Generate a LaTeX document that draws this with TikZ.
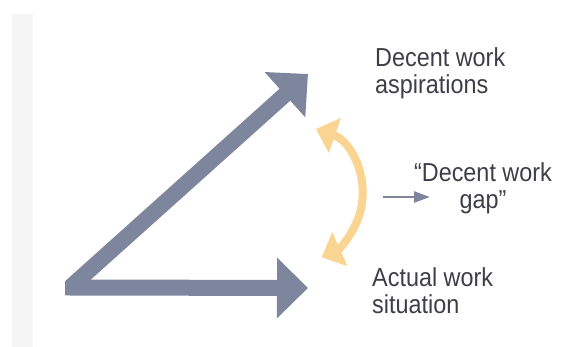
\documentclass[tikz,border=0pt]{standalone}
\usepackage{fontspec}
\setmainfont{Liberation Sans}[FakeStretch=0.9]
\usepackage{xcolor}
\usetikzlibrary{arrows.meta}
\definecolor{slate}{RGB}{125, 134, 157}
\definecolor{sand}{RGB}{250, 212, 145}
\definecolor{ink}{RGB}{62, 62, 72}
\definecolor{margin}{RGB}{245, 245, 245}

\begin{document}
\begin{tikzpicture}[x=1pt, y=-1pt,
    bigarrow/.style={slate, line width=16pt, line join=miter,
        {Triangle[length=31pt, width=59pt]}-{Triangle[length=31pt, width=59pt]}},
    gaparrow/.style={sand, line width=8pt,
        {Triangle[length=20pt, width=36pt]}-{Triangle[length=20pt, width=36pt]}},
    smallarrow/.style={slate, line width=2.5pt, -{Triangle[length=16pt, width=11pt]}},
    label/.style={ink, inner sep=0pt, font=\fontsize{26}{27}\selectfont}]
    \useasboundingbox (0,0) rectangle (562,347);
    % grey strip on the left
    \fill[margin] (12,14) rectangle (33,347);

    % the two big arrows from a common corner
    \coordinate (origin) at (70,287.5);
    \coordinate (aspire) at (308,74);
    \coordinate (actual) at (308,288);
    \begin{scope}
        \clip (65,0) rectangle (562,347);
        \draw[bigarrow] (aspire) -- (origin) -- (actual);
    \end{scope}

    % gap between the two
    \coordinate (gaptop) at (316,129);
    \draw[gaparrow] (gaptop) arc[start angle=-71, end angle=66, radius=69];
    \coordinate (gapfrom) at (383,197);
    \coordinate (gapto) at (430,197);
    \draw[smallarrow] (gapfrom) -- (gapto);

    % labels (base = last line)
    \node[label, anchor=base west, align=left] (aspirelbl) at (375,94) {Decent work\\aspirations};
    \node[label, anchor=base, align=center] (gaplbl) at (483,209) {“Decent work\\gap”};
    \node[label, anchor=base west, align=left] (actuallbl) at (372,313) {Actual work\\situation};
\end{tikzpicture}
\end{document}
